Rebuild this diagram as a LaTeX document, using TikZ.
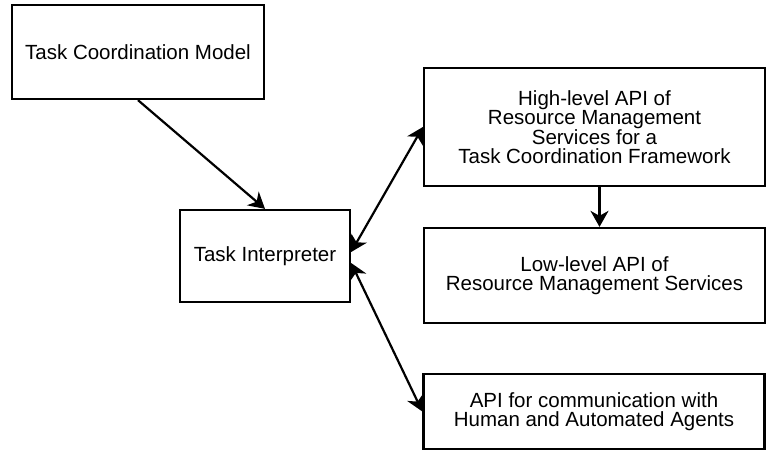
\documentclass[tikz,border=0pt]{standalone}
\usepackage{fontspec}
\setmainfont{Liberation Sans}
\usetikzlibrary{arrows.meta}
\tikzset{box/.style={draw, line width=2.3pt, align=center, inner sep=0pt, font=\fontsize{20.5}{19}\selectfont}}
\begin{document}
\begin{tikzpicture}[x=1pt, y=-1pt, line width=2.2pt, >={Stealth[length=16pt,width=18pt,inset=5pt]}]
            \useasboundingbox (0,0) rectangle (767,451);
            \node [box, minimum width=252pt, minimum height=94pt] (tcm) at (138,52) {Task Coordination Model};
            \node [box, minimum width=170pt, minimum height=92pt] (ti) at (265,256) {Task Interpreter};
            \node [box, minimum width=341pt, minimum height=118pt] (high) at (594.5,127) {High-level API of\\Resource Management\\Services for a\\Task Coordination Framework};
            \node [box, minimum width=341pt, minimum height=95pt] (low) at (594.5,275.5) {Low-level API of\\Resource Management Services};
            \node [box, minimum width=341pt, minimum height=75pt] (comm) at (594,411.5) {API for communication with\\Human and Automated Agents};
            \path[->] (tcm.south) edge (ti.north);
            \path[<->] ([yshift=4pt]ti.east) edge (high.west);
            \path[<->] ([yshift=-7pt]ti.east) edge (comm.west);
            \path[->] ([xshift=5pt]high.south) edge ([xshift=5pt]low.north);
        \end{tikzpicture}
\end{document}
